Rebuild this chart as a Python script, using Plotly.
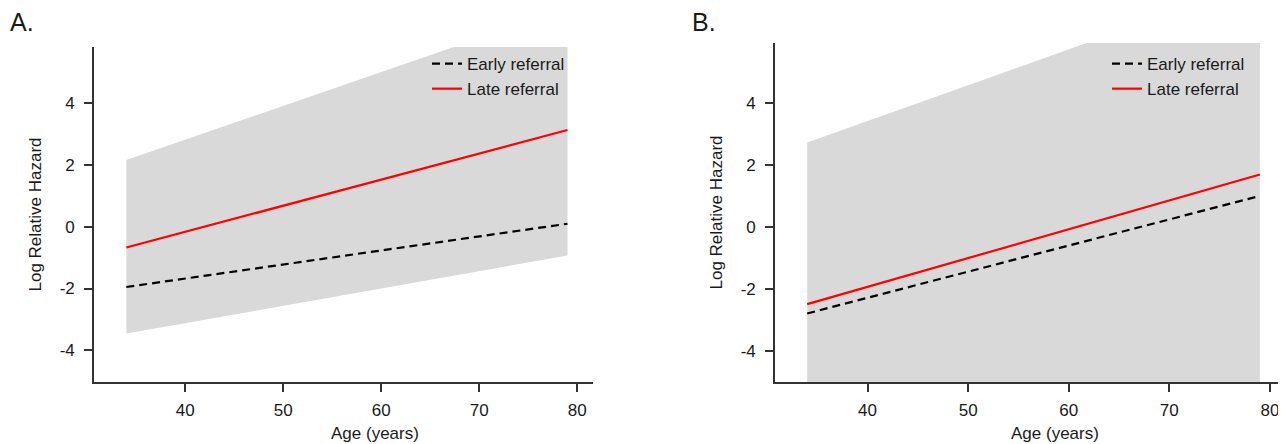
import plotly.graph_objects as go

# ---- data ----
age_ends = [34, 79]

# Panel A
a_early = [-1.95, 0.10]
a_late = [-0.67, 3.14]
a_band_upper = [2.17, 7.10]
a_band_lower = [-3.46, -0.93]

# Panel B
b_early = [-2.79, 1.00]
b_late = [-2.49, 1.69]
b_band_upper = [2.72, 7.92]
b_band_lower = [-6.50, -6.50]

x_ticks = [40, 50, 60, 70, 80]
y_ticks = [-4, -2, 0, 2, 4]
y_tick_text = [str(v) for v in y_ticks]
series_names = ["Early referral", "Late referral"]
x_title = "Age (years)"
y_title = "Log Relative Hazard"
panel_labels = ["A.", "B."]

FONT = "Liberation Sans, Arial, sans-serif"
TXT = "#1a1a1a"
OFF = 8  # page body margin
W, H = 1286 - OFF, 444 - OFF

fig = go.Figure()

def add_panel(xa, ya, early, late, up, lo, legend_name):
    band_x = age_ends + age_ends[::-1]
    band_y = lo + up[::-1]
    fig.add_trace(go.Scatter(x=band_x, y=band_y, fill="toself", mode="lines",
                             line=dict(width=0), fillcolor="#d9d9d9",
                             showlegend=False, hoverinfo="skip",
                             xaxis=xa, yaxis=ya))
    fig.add_trace(go.Scatter(x=age_ends, y=early, mode="lines", name=series_names[0],
                             line=dict(color="black", width=2.2, dash="8px,5px"),
                             xaxis=xa, yaxis=ya, legend=legend_name))
    fig.add_trace(go.Scatter(x=age_ends, y=late, mode="lines", name=series_names[1],
                             line=dict(color="#ff0000", width=2.2),
                             xaxis=xa, yaxis=ya, legend=legend_name))

add_panel("x", "y", a_early, a_late, a_band_upper, a_band_lower, "legend")
add_panel("x2", "y2", b_early, b_late, b_band_upper, b_band_lower, "legend2")

def px_x(p):
    return (p - OFF) / W

def px_y(p):
    return 1 - (p - OFF) / H

axis_common = dict(showline=True, linecolor="#333333", linewidth=1.6,
                   ticks="outside", ticklen=8, tickwidth=1.6, tickcolor="#333333",
                   showgrid=False, zeroline=False,
                   tickfont=dict(family=FONT, size=17, color=TXT))

xa_common = dict(axis_common, tickvals=x_ticks, ticklabelstandoff=4)
ya_common = dict(axis_common, tickvals=y_ticks, ticktext=y_tick_text, ticklabelstandoff=6,
                 title=dict(text=y_title, font=dict(family=FONT, size=17, color=TXT), standoff=14))

def text_ann(text, x, y, size, xanchor="center"):
    return dict(text=text, x=px_x(x), y=px_y(y), xref="paper", yref="paper",
                xanchor=xanchor, yanchor="middle", showarrow=False,
                font=dict(family=FONT, size=size, color=TXT))

fig.update_layout(
    width=W, height=H,
    margin=dict(l=0, r=0, t=0, b=0),
    paper_bgcolor="white", plot_bgcolor="white",
    xaxis=dict(xa_common, domain=[px_x(94), px_x(593)], range=[30.7, 81.6], anchor="y"),
    yaxis=dict(ya_common, domain=[px_y(382), px_y(47)], range=[-5.03, 5.83], anchor="x"),
    xaxis2=dict(xa_common, domain=[px_x(775), px_x(1286)], range=[30.8, 81.6], anchor="y2"),
    yaxis2=dict(ya_common, domain=[px_y(382), px_y(43)], range=[-5.0, 5.93], anchor="x2"),
    legend=dict(x=px_x(427), y=px_y(46), xanchor="left", yanchor="top",
                bgcolor="rgba(0,0,0,0)", font=dict(family=FONT, size=17, color=TXT),
                tracegroupgap=0, itemwidth=30),
    legend2=dict(x=px_x(1107), y=px_y(46), xanchor="left", yanchor="top",
                 bgcolor="rgba(0,0,0,0)", font=dict(family=FONT, size=17, color=TXT),
                 tracegroupgap=0, itemwidth=30),
    annotations=[
        text_ann(panel_labels[0], 8, 22, 25, "left"),
        text_ann(panel_labels[1], 690, 22, 25, "left"),
        text_ann(x_title, 375, 433, 17),
        text_ann(x_title, 1055, 433, 17),
    ],
)

fig.write_html("out.html")
